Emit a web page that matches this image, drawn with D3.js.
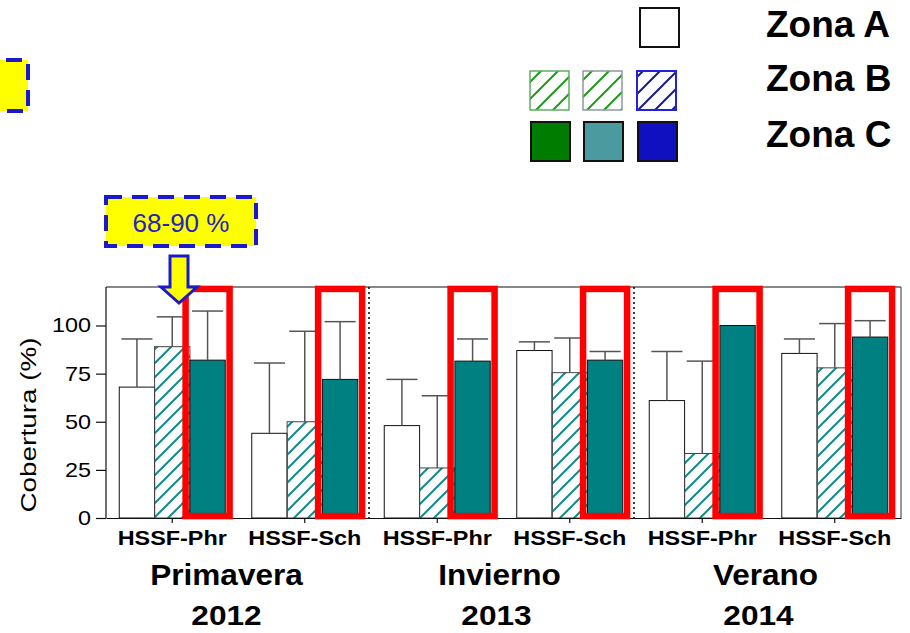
<!DOCTYPE html>
<html>
<head>
<meta charset="utf-8">
<script src="https://cdn.jsdelivr.net/npm/d3@7"></script>
<style>
  html, body { margin: 0; padding: 0; background: #fff; }
  svg { display: block; font-family: "Liberation Sans", Arial, sans-serif; }
</style>
</head>
<body>
<svg id="chart" width="910" height="633"></svg>
<script>
// ---- data ----
const systems = ["HSSF-Phr", "HSSF-Sch"];
const seasons = ["Primavera", "Invierno", "Verano"];
const years = ["2012", "2013", "2014"];
const zones = ["Zona A", "Zona B", "Zona C"];

// mean cover (%) per group: Primavera Phr, Primavera Sch, Invierno Phr, Invierno Sch, Verano Phr, Verano Sch
const zonaA = [68, 44, 48, 87, 61, 85.5];
const zonaB = [89, 50, 26, 75.5, 33.5, 78];
const zonaC = [82, 72, 81.5, 82, 100, 94];
// upper error (standard deviation)
const zonaAErr = [25, 36.5, 24, 4.5, 25.5, 7.5];
const zonaBErr = [15.5, 47, 37.5, 18, 48, 23];
const zonaCErr = [25.5, 30, 11.5, 4.5, 0, 8.5];

const yTicks = [0, 25, 50, 75, 100];
const calloutText = "68-90 %";

// ---- layout ----
const svg = d3.select("#chart");
const plotLeft = 106, plotRight = 901, plotTop = 287, plotBottom = 518;

const groups = d3.range(zonaA.length);
const x0 = d3.scaleBand().domain(groups).range([plotLeft, plotRight]).padding(0);
const x1 = d3.scaleBand().domain(["A", "B", "C"]).range([0, x0.bandwidth()])
  .paddingInner(0).paddingOuter(0.375);
const y = d3.scaleLinear().domain([0, 120]).range([plotBottom, plotTop]);

const rows = groups.map(i => [
  { g: i, k: "A", v: zonaA[i], e: zonaAErr[i] },
  { g: i, k: "B", v: zonaB[i], e: zonaBErr[i] },
  { g: i, k: "C", v: zonaC[i], e: zonaCErr[i] }
]).flat();

// ---- patterns ----
const defs = svg.append("defs");
function hatch(id, color, size, width) {
  const p = defs.append("pattern").attr("id", id)
    .attr("patternUnits", "userSpaceOnUse").attr("width", size).attr("height", size);
  p.append("path")
    .attr("d", `M0,${size} L${size},0 M${-size/4},${size/4} L${size/4},${-size/4} M${size*3/4},${size*5/4} L${size*5/4},${size*3/4}`)
    .attr("stroke", color).attr("stroke-width", width).attr("fill", "none");
}
hatch("hatchTeal", "#138a8a", 14, 2);
hatch("hatchGreen", "#1f9a1f", 17, 2);
hatch("hatchNavy", "#1a1a8c", 17, 2);

// ---- bars ----
const fills = { A: "#ffffff", B: "url(#hatchTeal)", C: "#008080" };
svg.append("g").selectAll("rect").data(rows).join("rect")
  .attr("x", d => x0(d.g) + x1(d.k))
  .attr("y", d => y(d.v))
  .attr("width", x1.bandwidth())
  .attr("height", d => y(0) - y(d.v))
  .attr("fill", d => fills[d.k])
  .attr("stroke", d => d.k === "B" ? "#444" : "#111")
  .attr("stroke-width", 1);

// ---- error bars (upper only) ----
const eg = svg.append("g").attr("stroke", "#555").attr("stroke-width", 1.5);
rows.filter(d => d.e > 0).forEach(d => {
  const cx = x0(d.g) + x1(d.k) + x1.bandwidth() / 2;
  const capW = x1.bandwidth() * 0.88;
  eg.append("line").attr("x1", cx).attr("x2", cx).attr("y1", y(d.v)).attr("y2", y(d.v + d.e));
  eg.append("line").attr("x1", cx - capW / 2).attr("x2", cx + capW / 2)
    .attr("y1", y(d.v + d.e)).attr("y2", y(d.v + d.e));
});

// ---- season separators ----
[2, 4].forEach(i => {
  svg.append("line").attr("x1", x0(i) - 2).attr("x2", x0(i) - 2)
    .attr("y1", plotTop).attr("y2", plotBottom)
    .attr("stroke", "#000").attr("stroke-width", 1.5).attr("stroke-dasharray", "2,3");
});

// ---- frame ----
svg.append("line").attr("x1", plotLeft).attr("x2", plotRight).attr("y1", plotTop).attr("y2", plotTop)
  .attr("stroke", "#111").attr("stroke-width", 1.2);
svg.append("line").attr("x1", plotRight).attr("x2", plotRight).attr("y1", plotTop).attr("y2", plotBottom)
  .attr("stroke", "#555").attr("stroke-width", 1.2);

// ---- axes ----
const ySx = 1.17;
const yAxis = svg.append("g").attr("transform", `translate(${plotLeft},0)`)
  .call(d3.axisLeft(y).tickValues(yTicks).tickSize(10).tickSizeOuter(0));
yAxis.select(".domain").attr("stroke", "#111").attr("stroke-width", 1.2)
  .attr("d", `M0,${plotBottom} V${plotTop}`);
yAxis.selectAll(".tick line").attr("stroke", "#111").attr("stroke-width", 1.2);
yAxis.selectAll(".tick text")
  .attr("font-size", 20).attr("font-family", "Liberation Sans, Arial, sans-serif")
  .attr("fill", "#000")
  .attr("x", -15 / ySx)
  .attr("transform", `scale(${ySx},1)`);

const xSx = 1.2;
const xAxis = svg.append("g").attr("transform", `translate(0,${plotBottom})`)
  .call(d3.axisBottom(x0).tickSize(5).tickSizeOuter(0)
    .tickFormat(i => systems[i % systems.length]));
xAxis.select(".domain").attr("stroke", "#111").attr("stroke-width", 1.2);
xAxis.selectAll(".tick line").attr("stroke", "#111").attr("stroke-width", 1.2);
xAxis.selectAll(".tick text")
  .attr("font-size", 19.5).attr("font-weight", "bold")
  .attr("font-family", "Liberation Sans, Arial, sans-serif").attr("fill", "#000")
  .attr("y", 27).attr("dy", 0)
  .attr("transform", `scale(${xSx},1)`);

// season and year labels under each pair of groups
const seasonDx = [-12, -4, -3];
const yearDx = [-12, -7, -10];
seasons.forEach((s, i) => {
  const cx = x0(i * 2) + x0.bandwidth();
  svg.append("text")
    .attr("transform", `translate(${cx + seasonDx[i]},585) scale(1.07,1)`)
    .attr("text-anchor", "middle").attr("font-size", 29.5).attr("font-weight", "bold")
    .text(s);
  svg.append("text")
    .attr("transform", `translate(${cx + yearDx[i]},625) scale(1.15,1)`)
    .attr("text-anchor", "middle").attr("font-size", 27.5).attr("font-weight", "bold")
    .text(years[i]);
});

// y-axis title
svg.append("text")
  .attr("transform", "translate(36,425) rotate(-90) scale(1.24,1)")
  .attr("text-anchor", "middle").attr("font-size", 22.5).attr("fill", "#000")
  .text("Cobertura (%)");

// ---- red highlight boxes around Zona C bars ----
svg.append("g").selectAll("rect").data(rows.filter(d => d.k === "C")).join("rect")
  .attr("x", d => x0(d.g) + x1("C") + x1.bandwidth() / 2 - 22)
  .attr("y", y(119))
  .attr("width", 44)
  .attr("height", y(1) - y(119))
  .attr("fill", "none").attr("stroke", "#ff0000").attr("stroke-width", 6.5);

// ---- callout ----
const blue = "#1a1acc";
svg.append("rect").attr("x", 106).attr("y", 197).attr("width", 150).attr("height", 49)
  .attr("fill", "#ffff00").attr("stroke", blue).attr("stroke-width", 4)
  .attr("stroke-dasharray", "16,10");
svg.append("text").attr("x", 181).attr("y", 232).attr("text-anchor", "middle")
  .attr("font-size", 26).attr("fill", "#2323c8").text(calloutText);
svg.append("path")
  .attr("d", "M170,256 L188,256 L188,287 L197,287 L179,303 L161,287 L170,287 Z")
  .attr("fill", "#ffff00").attr("stroke", blue).attr("stroke-width", 3)
  .attr("stroke-linejoin", "miter");

// partially visible note box on the left edge
svg.append("rect").attr("x", -150).attr("y", 60).attr("width", 178).attr("height", 51)
  .attr("fill", "#ffff00").attr("stroke", blue).attr("stroke-width", 4)
  .attr("stroke-dasharray", "16,10");

// ---- legend ----
const box = 39;
const colX = [530, 583, 637];
const rowY = [8, 71, 122];
// Zona A
svg.append("rect").attr("x", 640).attr("y", rowY[0]).attr("width", box).attr("height", box)
  .attr("fill", "#fff").attr("stroke", "#111").attr("stroke-width", 2);
// Zona B (hatched)
const bFill = ["url(#hatchGreen)", "url(#hatchGreen)", "url(#hatchNavy)"];
const bStroke = ["#5fae5f", "#8a9aa0", "#2222dd"];
colX.forEach((cx, i) => {
  svg.append("rect").attr("x", cx).attr("y", rowY[1]).attr("width", box).attr("height", box)
    .attr("fill", bFill[i]).attr("stroke", bStroke[i]).attr("stroke-width", i === 2 ? 2 : 1.5);
});
// Zona C (solid)
const cFill = ["#007c00", "#4a9aa0", "#1010c0"];
colX.forEach((cx, i) => {
  svg.append("rect").attr("x", cx + 1).attr("y", rowY[2]).attr("width", box).attr("height", box)
    .attr("fill", cFill[i]).attr("stroke", "#111").attr("stroke-width", 2);
});
zones.forEach((z, i) => {
  svg.append("text").attr("x", 766).attr("y", [37, 91, 147][i])
    .attr("font-size", 37).attr("font-weight", "bold").attr("fill", "#000").text(z);
});
</script>
</body>
</html>
